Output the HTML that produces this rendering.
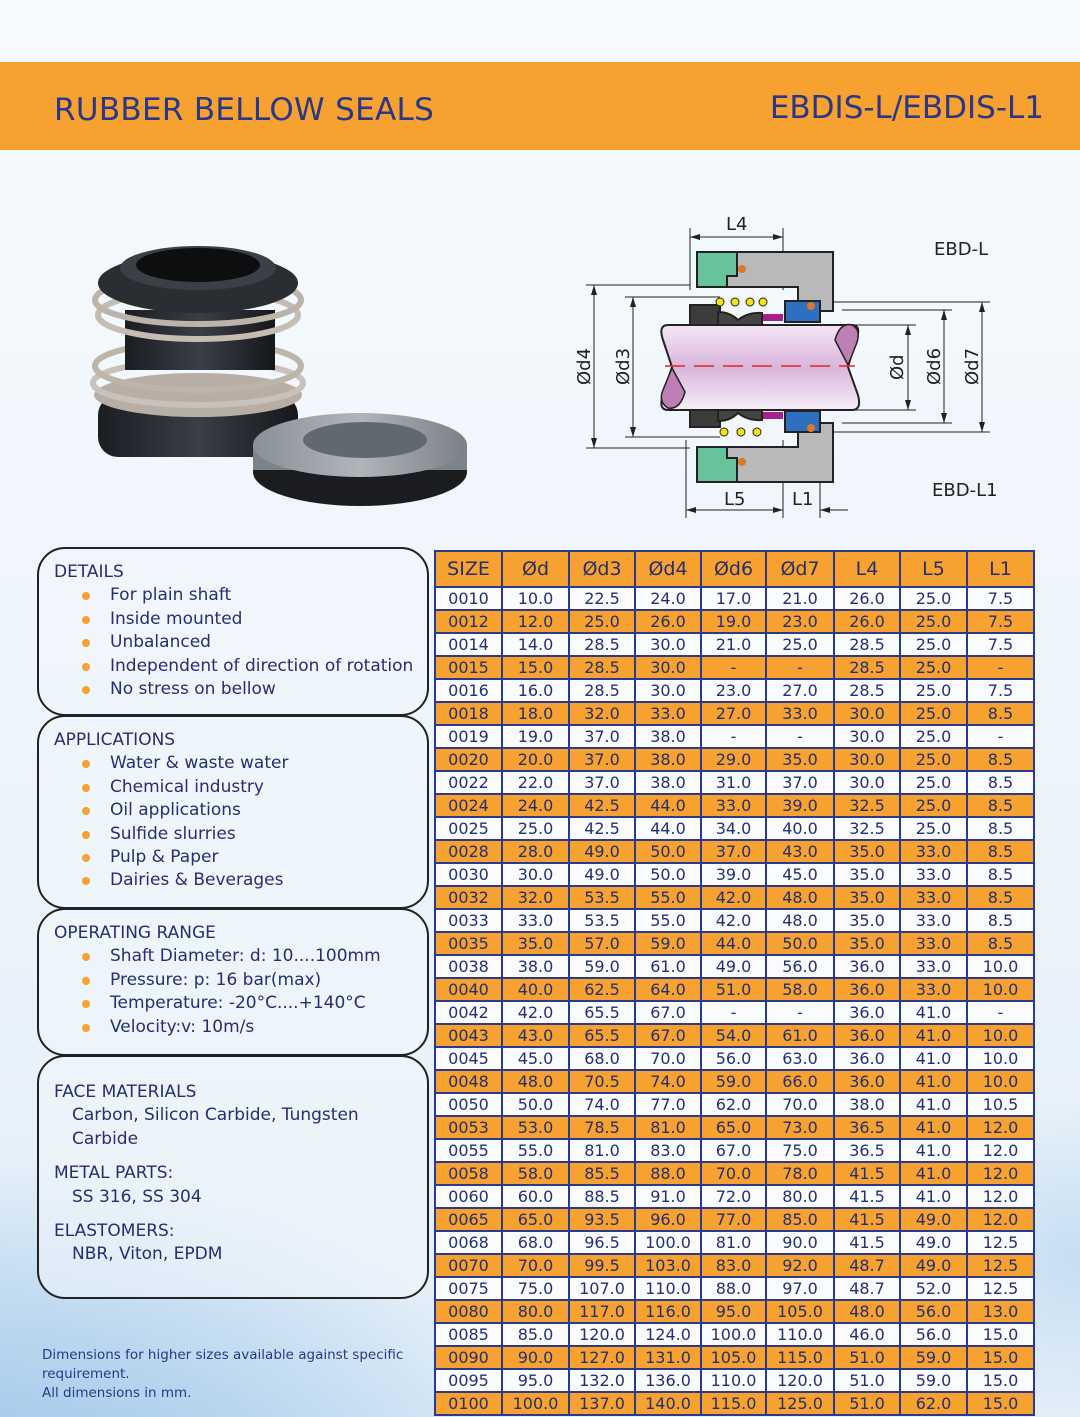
<!DOCTYPE html>
<html><head><meta charset="utf-8">
<style>
*{margin:0;padding:0;box-sizing:border-box}
html,body{width:1080px;height:1417px;overflow:hidden}
body{position:relative;font-family:"DejaVu Sans","Liberation Sans",sans-serif;color:#24306e;
background:linear-gradient(180deg,#f6fafd 0%,#eef5fb 50%,#e2eef8 100%);}
.wrap{position:absolute;left:0;top:0;width:1080px;height:1417px;overflow:hidden}
.bg1{position:absolute;left:-300px;top:1150px;width:900px;height:600px;border-radius:50%;background:radial-gradient(ellipse at 30% 70%,#8fbde6 0%,#b9d6ef 40%,rgba(220,235,248,0) 70%);}
.bg2{position:absolute;left:900px;top:1100px;width:180px;height:317px;background:radial-gradient(ellipse at 100% 50%,#c6def2 0%,rgba(230,240,250,0) 70%);}
.band{position:absolute;left:0;top:62px;width:1080px;height:88px;background:#f7a130;}
.band .l{position:absolute;left:54px;top:30px;font-size:31px;color:#2a3787;letter-spacing:0.3px}
.band .r{position:absolute;right:36px;top:28px;font-size:31px;color:#2a3787}
.box{position:absolute;left:37px;width:392px;border:2.5px solid #222;border-radius:28px;background:rgba(240,246,252,0.55);font-size:17px;line-height:23.4px;padding:12px 0 0 15px}
.box ul{list-style:none;margin-left:28px}
.box li{position:relative;padding-left:28px}
.box li:before{content:"";position:absolute;left:0;top:8px;width:8px;height:8px;border-radius:50%;background:#f7a130}
.ind{margin-left:18px}
table{position:absolute;left:434px;top:550px;border-collapse:collapse;table-layout:fixed;font-size:16px;background:#2b3a8f}
td{border:2px solid #2b3a8f;height:23px;text-align:center;padding:0;line-height:19px;color:#24306e}
tr.h td{height:36px;font-size:19px;background:#f7a130}
tr:nth-child(even) td{background:#f9fbfd}
tr:nth-child(odd):not(.h) td{background:#f7a130}
.note{position:absolute;left:42px;top:1346px;font-size:13.5px;line-height:19px;color:#2a3787}
</style></head><body>
<div class="wrap"><div class="bg1"></div><div class="bg2"></div></div>
<div class="band"><div class="l">RUBBER BELLOW SEALS</div><div class="r">EBDIS-L/EBDIS-L1</div></div>

<svg style="position:absolute;left:0;top:0" width="1080" height="530">
<defs>
<linearGradient id="blk" x1="0" x2="1"><stop offset="0" stop-color="#1a1d22"/><stop offset=".5" stop-color="#3a3f46"/><stop offset="1" stop-color="#15171b"/></linearGradient>
<linearGradient id="gr" x1="0" x2="1"><stop offset="0" stop-color="#8a9097"/><stop offset=".5" stop-color="#b0b5ba"/><stop offset="1" stop-color="#7b8087"/></linearGradient>
<linearGradient id="sh" x1="0" y1="0" x2="0" y2="1"><stop offset="0" stop-color="#f4e6f4"/><stop offset=".5" stop-color="#d9b5dc"/><stop offset="1" stop-color="#f6eef7"/></linearGradient>
</defs>
<rect x="98" y="395" width="200" height="62" rx="20" fill="url(#blk)"/>
<ellipse cx="198" cy="395" rx="104" ry="22" fill="#b8aea5"/>
<ellipse cx="198" cy="383" rx="105" ry="22" fill="none" stroke="#c9c2ba" stroke-width="6"/>
<ellipse cx="198" cy="366" rx="103" ry="24" fill="none" stroke="#bdb4aa" stroke-width="6"/>
<rect x="125" y="310" width="150" height="60" fill="url(#blk)"/>
<ellipse cx="198" cy="315" rx="100" ry="24" fill="none" stroke="#c5bdb3" stroke-width="6"/>
<ellipse cx="198" cy="300" rx="103" ry="24" fill="none" stroke="#bcb3a9" stroke-width="6"/>
<ellipse cx="198" cy="283" rx="100" ry="30" fill="#2a2d32"/>
<ellipse cx="198" cy="268" rx="78" ry="22" fill="#3c4046"/>
<ellipse cx="198" cy="265" rx="62" ry="17" fill="#0d0e10"/>
<ellipse cx="360" cy="472" rx="107" ry="34" fill="#1a1c20"/>
<rect x="253" y="445" width="214" height="25" fill="#7d838a"/>
<ellipse cx="360" cy="445" rx="107" ry="32" fill="url(#gr)"/>
<ellipse cx="365" cy="440" rx="62" ry="18" fill="#62686f"/>
<g stroke="#222" stroke-width="1" fill="none">
<line x1="690" y1="228" x2="690" y2="290"/><line x1="783" y1="228" x2="783" y2="290"/>
<line x1="690" y1="237" x2="783" y2="237"/>
<line x1="686" y1="440" x2="686" y2="518"/><line x1="783" y1="440" x2="783" y2="518"/><line x1="820" y1="430" x2="820" y2="518"/>
<line x1="686" y1="510" x2="783" y2="510"/><line x1="820" y1="510" x2="848" y2="510"/>
<line x1="586" y1="285" x2="690" y2="285"/><line x1="586" y1="448" x2="690" y2="448"/>
<line x1="625" y1="297" x2="720" y2="297"/><line x1="625" y1="437" x2="720" y2="437"/>
<line x1="594" y1="285" x2="594" y2="448"/><line x1="633" y1="297" x2="633" y2="437"/>
<line x1="855" y1="325" x2="916" y2="325"/><line x1="855" y1="410" x2="916" y2="410"/>
<line x1="842" y1="310" x2="952" y2="310"/><line x1="842" y1="423" x2="952" y2="423"/>
<line x1="825" y1="302" x2="990" y2="302"/><line x1="825" y1="432" x2="990" y2="432"/>
<line x1="908" y1="325" x2="908" y2="410"/><line x1="944" y1="310" x2="944" y2="423"/><line x1="982" y1="302" x2="982" y2="432"/>
</g>
<g fill="#222">
<path d="M690 237l10-3v6zM783 237l-10-3v6zM686 510l10-3v6zM783 510l-10-3v6zM820 510l10-3v6z"/>
<path d="M594 285l-3 10h6zM594 448l-3-10h6zM633 297l-3 10h6zM633 437l-3-10h6zM908 325l-3 10h6zM908 410l-3-10h6zM944 310l-3 10h6zM944 423l-3-10h6zM982 302l-3 10h6zM982 432l-3-10h6z"/>
</g>
<g stroke="#222" stroke-width="2">
<path d="M737 252H833V311H798V287H727V276H737Z" fill="#b9b9b9"/>
<path d="M697 252H737V276H727V287H697Z" fill="#66c39a"/>
<path d="M697 482H737V458H727V447H697Z" fill="#66c39a"/>
<path d="M737 482H833V423H798V447H727V458H737Z" fill="#b9b9b9"/>
<path d="M690 305H720V325H690Z" fill="#3c3c3c"/>
<path d="M690 407H720V427H690Z" fill="#3c3c3c"/>
<path d="M785 301H820V322H785Z" fill="#2f6fc2"/>
<path d="M785 411H820V432H785Z" fill="#2f6fc2"/>
<path d="M718 312Q730 312 738 320Q748 312 762 313V325H718Z" fill="#444"/>
<path d="M718 421Q730 421 738 413Q748 421 762 420V408H718Z" fill="#444"/>
</g>
<rect x="763" y="314" width="20" height="7" fill="#a8208c"/>
<rect x="763" y="412" width="20" height="7" fill="#a8208c"/>
<g fill="#f2e312" stroke="#222"><circle cx="720" cy="302" r="4"/><circle cx="735" cy="302" r="4"/><circle cx="750" cy="302" r="4"/><circle cx="763" cy="302" r="4"/><circle cx="724" cy="432" r="4"/><circle cx="741" cy="432" r="4"/><circle cx="757" cy="432" r="4"/></g>
<g fill="#d87a2a"><circle cx="742" cy="269" r="4"/><circle cx="811" cy="306" r="4"/><circle cx="742" cy="462" r="4"/><circle cx="811" cy="428" r="4"/></g>
<path d="M668 325H852Q862 325 856 340L848 367L858 395Q862 410 852 410H668Q658 410 663 395L672 367L663 340Q658 325 668 325Z" fill="url(#sh)" stroke="#222" stroke-width="2"/>
<path d="M848 365L835 340Q840 322 852 325Q862 330 856 345Z" fill="#c07fb4" stroke="#222" stroke-width="1.5"/>
<path d="M672 368L685 392Q680 410 668 408Q658 402 663 390Z" fill="#c07fb4" stroke="#222" stroke-width="1.5"/>
<line x1="665" y1="366" x2="855" y2="366" stroke="#e2262a" stroke-width="1.5" stroke-dasharray="20,9"/>
<g font-family="DejaVu Sans,sans-serif" font-size="18" fill="#222">
<text x="726" y="230">L4</text><text x="724" y="505">L5</text><text x="792" y="505">L1</text>
<text x="934" y="255">EBD-L</text><text x="932" y="496">EBD-L1</text>
<text transform="translate(590,385) rotate(-90)">Ød4</text>
<text transform="translate(629,385) rotate(-90)">Ød3</text>
<text transform="translate(903,380) rotate(-90)">Ød</text>
<text transform="translate(940,385) rotate(-90)">Ød6</text>
<text transform="translate(978,385) rotate(-90)">Ød7</text>
</g>
</svg>

<div class="box" style="top:547px;height:169px"><div>DETAILS</div><ul>
<li>For plain shaft</li><li>Inside mounted</li><li>Unbalanced</li><li>Independent of direction of rotation</li><li>No stress on bellow</li></ul></div>
<div class="box" style="top:715px;height:194px"><div>APPLICATIONS</div><ul>
<li>Water &amp; waste water</li><li>Chemical industry</li><li>Oil applications</li><li>Sulfide slurries</li><li>Pulp &amp; Paper</li><li>Dairies &amp; Beverages</li></ul></div>
<div class="box" style="top:908px;height:148px"><div>OPERATING RANGE</div><ul>
<li>Shaft Diameter: d: 10....100mm</li><li>Pressure: p: 16 bar(max)</li><li>Temperature: -20°C....+140°C</li><li>Velocity:v: 10m/s</li></ul></div>
<div class="box" style="top:1055px;height:244px;padding-top:24px">
<div>FACE MATERIALS</div><div class="ind">Carbon, Silicon Carbide, Tungsten<br>Carbide</div>
<div style="margin-top:11px">METAL PARTS:</div><div class="ind">SS 316, SS 304</div>
<div style="margin-top:11px">ELASTOMERS:</div><div class="ind">NBR, Viton, EPDM</div></div>

<div class="note">Dimensions for higher sizes available against specific<br>requirement.<br>All dimensions in mm.</div>

<table>
<colgroup><col style="width:67px"><col style="width:67px"><col style="width:66px"><col style="width:66px"><col style="width:65px"><col style="width:68px"><col style="width:66px"><col style="width:67px"><col style="width:67px"></colgroup>
<tr class="h"><td>SIZE</td><td>Ød</td><td>Ød3</td><td>Ød4</td><td>Ød6</td><td>Ød7</td><td>L4</td><td>L5</td><td>L1</td></tr>
<tr><td>0010</td><td>10.0</td><td>22.5</td><td>24.0</td><td>17.0</td><td>21.0</td><td>26.0</td><td>25.0</td><td>7.5</td></tr>
<tr><td>0012</td><td>12.0</td><td>25.0</td><td>26.0</td><td>19.0</td><td>23.0</td><td>26.0</td><td>25.0</td><td>7.5</td></tr>
<tr><td>0014</td><td>14.0</td><td>28.5</td><td>30.0</td><td>21.0</td><td>25.0</td><td>28.5</td><td>25.0</td><td>7.5</td></tr>
<tr><td>0015</td><td>15.0</td><td>28.5</td><td>30.0</td><td>-</td><td>-</td><td>28.5</td><td>25.0</td><td>-</td></tr>
<tr><td>0016</td><td>16.0</td><td>28.5</td><td>30.0</td><td>23.0</td><td>27.0</td><td>28.5</td><td>25.0</td><td>7.5</td></tr>
<tr><td>0018</td><td>18.0</td><td>32.0</td><td>33.0</td><td>27.0</td><td>33.0</td><td>30.0</td><td>25.0</td><td>8.5</td></tr>
<tr><td>0019</td><td>19.0</td><td>37.0</td><td>38.0</td><td>-</td><td>-</td><td>30.0</td><td>25.0</td><td>-</td></tr>
<tr><td>0020</td><td>20.0</td><td>37.0</td><td>38.0</td><td>29.0</td><td>35.0</td><td>30.0</td><td>25.0</td><td>8.5</td></tr>
<tr><td>0022</td><td>22.0</td><td>37.0</td><td>38.0</td><td>31.0</td><td>37.0</td><td>30.0</td><td>25.0</td><td>8.5</td></tr>
<tr><td>0024</td><td>24.0</td><td>42.5</td><td>44.0</td><td>33.0</td><td>39.0</td><td>32.5</td><td>25.0</td><td>8.5</td></tr>
<tr><td>0025</td><td>25.0</td><td>42.5</td><td>44.0</td><td>34.0</td><td>40.0</td><td>32.5</td><td>25.0</td><td>8.5</td></tr>
<tr><td>0028</td><td>28.0</td><td>49.0</td><td>50.0</td><td>37.0</td><td>43.0</td><td>35.0</td><td>33.0</td><td>8.5</td></tr>
<tr><td>0030</td><td>30.0</td><td>49.0</td><td>50.0</td><td>39.0</td><td>45.0</td><td>35.0</td><td>33.0</td><td>8.5</td></tr>
<tr><td>0032</td><td>32.0</td><td>53.5</td><td>55.0</td><td>42.0</td><td>48.0</td><td>35.0</td><td>33.0</td><td>8.5</td></tr>
<tr><td>0033</td><td>33.0</td><td>53.5</td><td>55.0</td><td>42.0</td><td>48.0</td><td>35.0</td><td>33.0</td><td>8.5</td></tr>
<tr><td>0035</td><td>35.0</td><td>57.0</td><td>59.0</td><td>44.0</td><td>50.0</td><td>35.0</td><td>33.0</td><td>8.5</td></tr>
<tr><td>0038</td><td>38.0</td><td>59.0</td><td>61.0</td><td>49.0</td><td>56.0</td><td>36.0</td><td>33.0</td><td>10.0</td></tr>
<tr><td>0040</td><td>40.0</td><td>62.5</td><td>64.0</td><td>51.0</td><td>58.0</td><td>36.0</td><td>33.0</td><td>10.0</td></tr>
<tr><td>0042</td><td>42.0</td><td>65.5</td><td>67.0</td><td>-</td><td>-</td><td>36.0</td><td>41.0</td><td>-</td></tr>
<tr><td>0043</td><td>43.0</td><td>65.5</td><td>67.0</td><td>54.0</td><td>61.0</td><td>36.0</td><td>41.0</td><td>10.0</td></tr>
<tr><td>0045</td><td>45.0</td><td>68.0</td><td>70.0</td><td>56.0</td><td>63.0</td><td>36.0</td><td>41.0</td><td>10.0</td></tr>
<tr><td>0048</td><td>48.0</td><td>70.5</td><td>74.0</td><td>59.0</td><td>66.0</td><td>36.0</td><td>41.0</td><td>10.0</td></tr>
<tr><td>0050</td><td>50.0</td><td>74.0</td><td>77.0</td><td>62.0</td><td>70.0</td><td>38.0</td><td>41.0</td><td>10.5</td></tr>
<tr><td>0053</td><td>53.0</td><td>78.5</td><td>81.0</td><td>65.0</td><td>73.0</td><td>36.5</td><td>41.0</td><td>12.0</td></tr>
<tr><td>0055</td><td>55.0</td><td>81.0</td><td>83.0</td><td>67.0</td><td>75.0</td><td>36.5</td><td>41.0</td><td>12.0</td></tr>
<tr><td>0058</td><td>58.0</td><td>85.5</td><td>88.0</td><td>70.0</td><td>78.0</td><td>41.5</td><td>41.0</td><td>12.0</td></tr>
<tr><td>0060</td><td>60.0</td><td>88.5</td><td>91.0</td><td>72.0</td><td>80.0</td><td>41.5</td><td>41.0</td><td>12.0</td></tr>
<tr><td>0065</td><td>65.0</td><td>93.5</td><td>96.0</td><td>77.0</td><td>85.0</td><td>41.5</td><td>49.0</td><td>12.0</td></tr>
<tr><td>0068</td><td>68.0</td><td>96.5</td><td>100.0</td><td>81.0</td><td>90.0</td><td>41.5</td><td>49.0</td><td>12.5</td></tr>
<tr><td>0070</td><td>70.0</td><td>99.5</td><td>103.0</td><td>83.0</td><td>92.0</td><td>48.7</td><td>49.0</td><td>12.5</td></tr>
<tr><td>0075</td><td>75.0</td><td>107.0</td><td>110.0</td><td>88.0</td><td>97.0</td><td>48.7</td><td>52.0</td><td>12.5</td></tr>
<tr><td>0080</td><td>80.0</td><td>117.0</td><td>116.0</td><td>95.0</td><td>105.0</td><td>48.0</td><td>56.0</td><td>13.0</td></tr>
<tr><td>0085</td><td>85.0</td><td>120.0</td><td>124.0</td><td>100.0</td><td>110.0</td><td>46.0</td><td>56.0</td><td>15.0</td></tr>
<tr><td>0090</td><td>90.0</td><td>127.0</td><td>131.0</td><td>105.0</td><td>115.0</td><td>51.0</td><td>59.0</td><td>15.0</td></tr>
<tr><td>0095</td><td>95.0</td><td>132.0</td><td>136.0</td><td>110.0</td><td>120.0</td><td>51.0</td><td>59.0</td><td>15.0</td></tr>
<tr><td>0100</td><td>100.0</td><td>137.0</td><td>140.0</td><td>115.0</td><td>125.0</td><td>51.0</td><td>62.0</td><td>15.0</td></tr>
</table>
</body></html>
